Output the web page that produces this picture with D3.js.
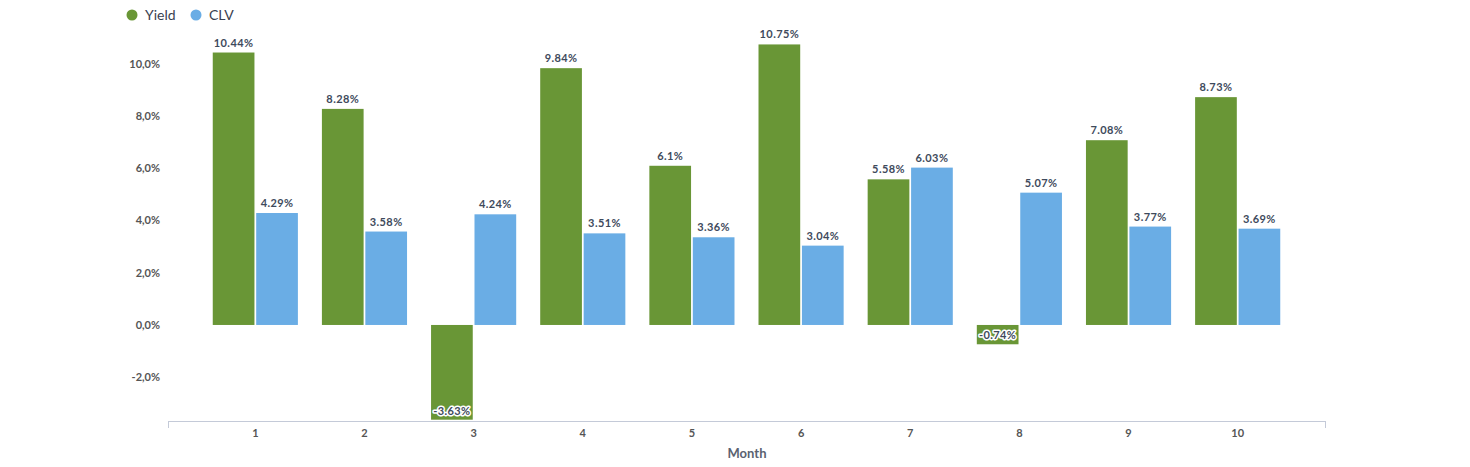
<!DOCTYPE html>
<html>
<head>
<meta charset="utf-8">
<script src="https://cdn.jsdelivr.net/npm/d3@7"></script>
<style>
  body { margin: 0; background: #fff; }
  svg { display: block; font-family: Lato, "Open Sans", sans-serif; }
</style>
</head>
<body>
<div id="chart"></div>
<script>
const months = ["1", "2", "3", "4", "5", "6", "7", "8", "9", "10"];
const yieldValues = [10.44, 8.28, -3.63, 9.84, 6.1, 10.75, 5.58, -0.74, 7.08, 8.73];
const clvValues = [4.29, 3.58, 4.24, 3.51, 3.36, 3.04, 6.03, 5.07, 3.77, 3.69];
const yTicks = [-2, 0, 2, 4, 6, 8, 10];
const seriesNames = ["Yield", "CLV"];

const width = 1470;
const height = 467;
const colors = { Yield: "#699636", CLV: "#6aade5" };
const labelColor = "#3e4a5c";

const svg = d3.select("#chart")
  .append("svg")
  .attr("width", width)
  .attr("height", height);

// scales
const axisLeft = 168, axisRight = 1325;
const x = d3.scaleBand()
  .domain(months)
  .range([axisLeft, axisRight])
  .paddingInner(0.22)
  .paddingOuter(0.41);

const xSeries = d3.scaleBand()
  .domain(seriesNames)
  .range([0, x.bandwidth()])
  .paddingInner(0.04);

const y = d3.scaleLinear()
  .domain([-3.68, 12.1])
  .range([421, 9.2]);

// y axis labels (no line)
svg.append("g")
  .selectAll("text")
  .data(yTicks)
  .join("text")
  .attr("x", 160)
  .attr("y", d => y(d))
  .attr("dy", "0.35em")
  .attr("text-anchor", "end")
  .style("font-size", "11px")
  .style("font-weight", "bold")
  .style("fill", "#555")
  .text(d => d3.format(".1f")(d).replace(".", ",").replace("−", "-") + "%");

// bars
const rows = months.map((m, i) => ({ month: m, Yield: yieldValues[i], CLV: clvValues[i] }));

const groups = svg.append("g")
  .selectAll("g")
  .data(rows)
  .join("g")
  .attr("transform", d => `translate(${x(d.month)},0)`);

groups.selectAll("rect")
  .data(d => seriesNames.map(s => ({ key: s, value: d[s] })))
  .join("rect")
  .attr("x", d => xSeries(d.key))
  .attr("width", xSeries.bandwidth())
  .attr("y", d => d.value >= 0 ? y(d.value) : y(0))
  .attr("height", d => Math.abs(y(d.value) - y(0)))
  .attr("fill", d => colors[d.key]);

// value labels
groups.selectAll("text")
  .data(d => seriesNames.map(s => ({ key: s, value: d[s] })))
  .join("text")
  .attr("x", d => xSeries(d.key) + xSeries.bandwidth() / 2)
  .attr("y", d => d.value >= 0 ? y(d.value) - 6 : Math.min(y(d.value), y.range()[0]) - 5)
  .attr("text-anchor", "middle")
  .style("font-size", "11px")
  .style("font-weight", "bold")
  .style("letter-spacing", "0.4px")
  .style("fill", labelColor)
  .style("paint-order", "stroke")
  .style("stroke", d => d.value < 0 ? "#fff" : "none")
  .style("stroke-width", 3)
  .style("stroke-linejoin", "round")
  .text(d => d.value + "%");

// x axis
const xAxis = svg.append("g");
xAxis.append("line")
  .attr("x1", axisLeft).attr("x2", axisRight)
  .attr("y1", 421.5).attr("y2", 421.5)
  .attr("stroke", "#c4cad8");
[axisLeft, axisRight].forEach(px => {
  xAxis.append("line")
    .attr("x1", px + 0.5).attr("x2", px + 0.5)
    .attr("y1", 421).attr("y2", 428)
    .attr("stroke", "#c4cad8");
});
xAxis.selectAll("text.tick")
  .data(months)
  .join("text")
  .attr("class", "tick")
  .attr("x", d => x(d) + x.bandwidth() / 2)
  .attr("y", 437)
  .attr("text-anchor", "middle")
  .style("font-size", "11px")
  .style("font-weight", "bold")
  .style("fill", "#555")
  .text(d => d);

svg.append("text")
  .attr("x", 747)
  .attr("y", 458)
  .attr("text-anchor", "middle")
  .style("font-size", "13px")
  .style("font-weight", "bold")
  .style("fill", "#5a6270")
  .text("Month");

// legend
const legend = svg.append("g").attr("transform", "translate(132,15)");
const legendItems = legend.selectAll("g")
  .data(seriesNames)
  .join("g")
  .attr("transform", (d, i) => `translate(${i * 64},0)`);
legendItems.append("circle")
  .attr("r", 5.5)
  .attr("fill", d => colors[d]);
legendItems.append("text")
  .attr("x", 13)
  .attr("dy", "0.35em")
  .style("font-size", "14px")
  .style("fill", "#3a4150")
  .text(d => d);
</script>
</body>
</html>
